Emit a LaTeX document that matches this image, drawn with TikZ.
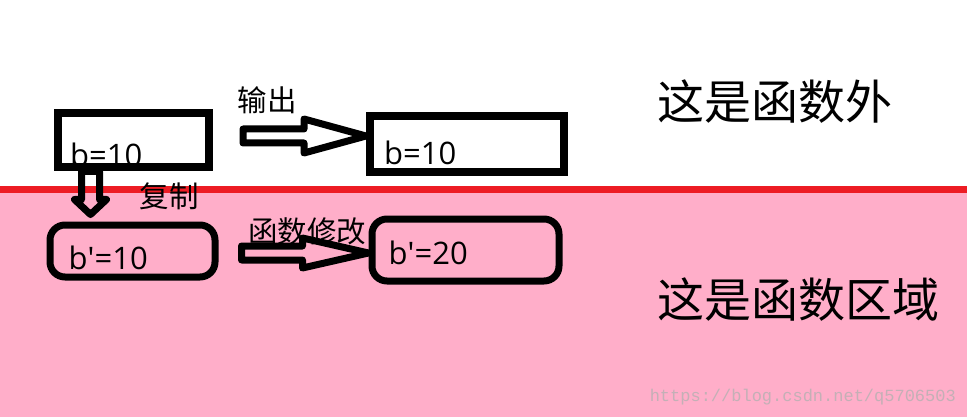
\documentclass[tikz,border=0pt]{standalone}
\usepackage{fontspec}
\setmainfont{Open Sans}
\newfontfamily\cjk{Noto Sans CJK SC}
\newfontfamily\urlfont{Liberation Mono}
\usetikzlibrary{calc}
\definecolor{areapink}{RGB}{255,174,201}
\definecolor{borderred}{RGB}{237,28,36}
\definecolor{markgray}{RGB}{196,176,182}

\begin{document}
\begin{tikzpicture}[
        x=1pt, y=-1pt,
        box/.style={rectangle, draw, line width=8pt, inner sep=0pt},
        roundbox/.style={box, rounded corners=15pt, line width=7pt},
        value/.style={anchor=base west, inner sep=0pt, font=\fontsize{31}{31}\selectfont},
        step_label/.style={inner sep=0pt, font=\cjk\fontsize{29.5}{30}\selectfont},
        area_label/.style={anchor=west, inner sep=0pt, font=\cjk\fontsize{47}{48}\selectfont},
        hollow/.style={draw, line width=7pt, line join=round}
    ]
        \useasboundingbox (0,0) rectangle (967,417);

        % Draw the two areas
        \fill[areapink] (0,189) rectangle (967,417);
        \draw[borderred, line width=7pt] (0,189.5) -- (967,189.5);

        % Boxes outside the function
        \node[box, minimum width=151pt, minimum height=54pt] (out_b) at (133.5,140) {};
        \node[box, minimum width=194pt, minimum height=56pt] (out_result) at (467,144) {};
        \node[value] (out_b_text) at ($(out_b.south west)+(16,-4)$) {b=10};
        \node[value] (out_result_text) at ($(out_result.south west)+(18,-11)$) {b=10};

        % Boxes inside the function
        \node[roundbox, minimum width=165pt, minimum height=52pt] (in_b) at (132.5,251) {};
        \node[roundbox, minimum width=187pt, minimum height=62pt] (in_result) at (465.5,250) {};
        \node[value] (in_b_text) at ($(in_b.south west)+(22,-11)$) {b\textquotesingle=10};
        \node[value] (in_result_text) at ($(in_result.south west)+(20,-20)$) {b\textquotesingle=20};

        % Hollow arrows
        \draw[hollow] ($(out_result.west)+(0,-8)$) -- ++(-62,-17) -- ++(0,10) -- ++(-61,0)
            -- ++(0,14) -- ++(61,0) -- ++(0,10) -- cycle;
        \draw[hollow] ($(in_result.west)+(0,3)$) -- ++(-66,-15) -- ++(0,8) -- ++(-61,0)
            -- ++(0,14) -- ++(61,0) -- ++(0,8) -- cycle;
        \draw[hollow] ($(in_b.north)+(-42,-7)$) -- ++(-16,-15) -- ++(7,0) -- ++(0,-28)
            -- ++(18,0) -- ++(0,28) -- ++(7,0) -- cycle;

        % Arrow labels
        \node[step_label] (out_label) at (267,100) {输出};
        \node[step_label] (copy_label) at (169,196) {复制};
        \node[step_label] (change_label) at (307,231) {函数修改};

        % Area labels
        \node[area_label] (outside_label) at (657,102) {这是函数外};
        \node[area_label] (inside_label) at (657,300) {这是函数区域};

        \node[anchor=base east, inner sep=0pt, text=markgray, font=\urlfont\fontsize{17}{17}\selectfont] (url_mark) at (956,401) {https://blog.csdn.net/q5706503};

    \end{tikzpicture}
\end{document}
